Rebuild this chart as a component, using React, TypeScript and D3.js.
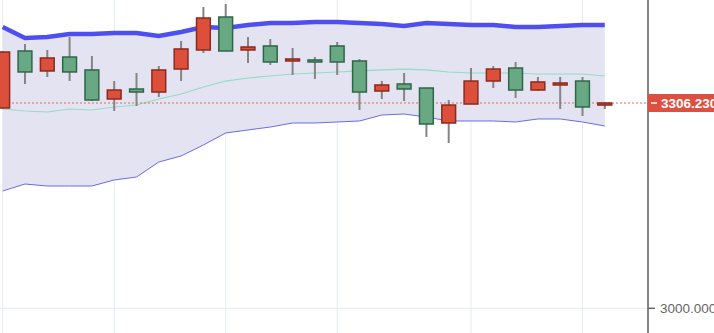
import React from "react";
import * as d3 from "d3";

const opens = [3298.8, 3383.8, 3354.0, 3374.8, 3355.5, 3312.2, 3327.1, 3322.6, 3356.9, 3385.3, 3434.5, 3385.3, 3391.3, 3368.9, 3370.4, 3391.3, 3368.9, 3324.1, 3334.6, 3328.6, 3276.4, 3304.7, 3339.0, 3358.4, 3325.6, 3333.1, 3339.0, 3303.2];
const highs = [3383.8, 3394.2, 3385.3, 3404.7, 3376.3, 3339.0, 3351.0, 3361.4, 3398.7, 3449.4, 3453.9, 3404.7, 3401.7, 3388.3, 3374.8, 3397.2, 3371.9, 3339.0, 3351.0, 3328.6, 3310.7, 3358.4, 3361.4, 3367.4, 3345.0, 3345.0, 3345.0, 3307.7];
const lows = [3297.3, 3334.6, 3345.0, 3339.0, 3309.2, 3294.3, 3301.8, 3315.2, 3339.0, 3380.8, 3383.8, 3365.9, 3362.9, 3348.0, 3342.0, 3348.0, 3295.8, 3312.2, 3309.2, 3255.5, 3246.6, 3304.7, 3328.6, 3313.7, 3324.1, 3297.3, 3286.8, 3297.3];
const closes = [3382.3, 3352.5, 3373.4, 3352.5, 3310.7, 3325.6, 3322.6, 3355.5, 3386.8, 3433.0, 3383.8, 3389.8, 3367.4, 3371.9, 3367.4, 3367.4, 3322.6, 3333.1, 3327.1, 3274.9, 3303.2, 3339.0, 3356.9, 3325.6, 3337.6, 3336.1, 3300.3, 3306.23];

const bollUpper = [3419.6, 3403.2, 3404.7, 3409.2, 3409.2, 3410.6, 3410.6, 3406.2, 3412.1, 3419.6, 3418.1, 3422.6, 3425.6, 3425.6, 3427.0, 3427.0, 3425.6, 3424.1, 3421.1, 3425.6, 3424.1, 3422.6, 3422.6, 3419.6, 3419.6, 3421.1, 3422.6, 3422.6];
const bollMid = [3297.3, 3294.3, 3292.8, 3297.3, 3295.8, 3300.3, 3303.2, 3312.2, 3319.7, 3330.1, 3339.0, 3343.5, 3346.5, 3349.5, 3351.0, 3352.5, 3354.0, 3355.5, 3356.9, 3355.5, 3352.5, 3351.0, 3351.0, 3351.0, 3349.5, 3349.5, 3349.5, 3346.5];
const bollLower = [3175.0, 3185.4, 3182.4, 3182.4, 3182.4, 3191.4, 3195.8, 3218.2, 3227.2, 3243.6, 3261.5, 3266.0, 3270.4, 3276.4, 3276.4, 3277.9, 3279.4, 3288.3, 3289.8, 3285.3, 3279.4, 3279.4, 3279.4, 3277.9, 3282.4, 3282.4, 3277.9, 3271.9];

const gridIdx = [0, 5, 10, 15, 21, 26];
const yTicks = [3000];
const lastPrice = 3306.23;

const W = 714;
const H = 333;
const AXIS_X = 648;

export default function App() {
  const idx = d3.range(closes.length);
  const x = d3.scaleLinear().domain([0, closes.length - 1]).range([2.7, 604.8]);
  const y = d3.scaleLinear().domain([3000, lastPrice]).range([308.3, 103]);
  const bodyW = 13.8;

  const area = d3
    .area<number>()
    .x((i) => x(i))
    .y0((i) => y(bollLower[i]))
    .y1((i) => y(bollUpper[i]));
  const line = (arr: number[]) =>
    d3
      .line<number>()
      .x((i) => x(i))
      .y((i) => y(arr[i]))(idx) as string;

  const font = "'Liberation Sans', Arial, sans-serif";

  return (
    <svg
      width={W}
      height={H}
      style={{ position: "absolute", left: 0, top: 0, background: "#fff" }}
    >
      {gridIdx.map((g) => (
        <line key={g} x1={x(g)} x2={x(g)} y1={0} y2={H} stroke="#e6ecf2" strokeWidth={1} />
      ))}
      {yTicks.map((t) => (
        <line key={t} x1={0} x2={AXIS_X} y1={y(t)} y2={y(t)} stroke="#e6ecf2" strokeWidth={1} />
      ))}
      <path d={area(idx) as string} fill="rgb(227,227,242)" />
      <path d={line(bollMid)} fill="none" stroke="#93dcc6" strokeWidth={1.2} />
      <path d={line(bollLower)} fill="none" stroke="#6b6bee" strokeWidth={1} />
      <path d={line(bollUpper)} fill="none" stroke="#4f4ff0" strokeWidth={4.5} />
      <line
        x1={0}
        x2={AXIS_X}
        y1={y(lastPrice)}
        y2={y(lastPrice)}
        stroke="#e26a5e"
        strokeWidth={1}
        strokeDasharray="2,2"
      />
      {idx.map((i) => {
        const up = closes[i] >= opens[i];
        const top = y(Math.max(opens[i], closes[i]));
        const bot = y(Math.min(opens[i], closes[i]));
        const h = Math.max(bot - top, 1.5);
        return (
          <g key={i}>
            <line x1={x(i)} x2={x(i)} y1={y(highs[i])} y2={y(lows[i])} stroke="#858585" strokeWidth={2} />
            <rect
              x={x(i) - bodyW / 2}
              y={top}
              width={bodyW}
              height={h}
              fill={up ? "#dc4f3b" : "#68a882"}
              stroke={up ? "#8c2a1f" : "#2f6648"}
              strokeWidth={1.5}
            />
          </g>
        );
      })}
      <line x1={AXIS_X} x2={AXIS_X} y1={0} y2={H} stroke="#5a5a5a" strokeWidth={1.5} />
      {yTicks.map((t) => (
        <g key={t}>
          <line x1={AXIS_X} x2={AXIS_X + 7} y1={y(t)} y2={y(t)} stroke="#666" strokeWidth={1.5} />
          <text x={AXIS_X + 12} y={y(t)} dy="0.35em" fontFamily={font} fontSize={13.5} fill="#666">
            {d3.format(".3f")(t)}
          </text>
        </g>
      ))}
      <rect x={AXIS_X} y={y(lastPrice) - 9} width={W - AXIS_X} height={18} fill="#dd5040" />
      <line
        x1={AXIS_X + 3}
        x2={AXIS_X + 9}
        y1={y(lastPrice)}
        y2={y(lastPrice)}
        stroke="#fff"
        strokeWidth={1.5}
      />
      <text
        x={AXIS_X + 13}
        y={y(lastPrice)}
        dy="0.36em"
        fontFamily={font}
        fontSize={13.5}
        fontWeight="bold"
        fill="#fff"
      >
        {d3.format(".3f")(lastPrice)}
      </text>
    </svg>
  );
}
